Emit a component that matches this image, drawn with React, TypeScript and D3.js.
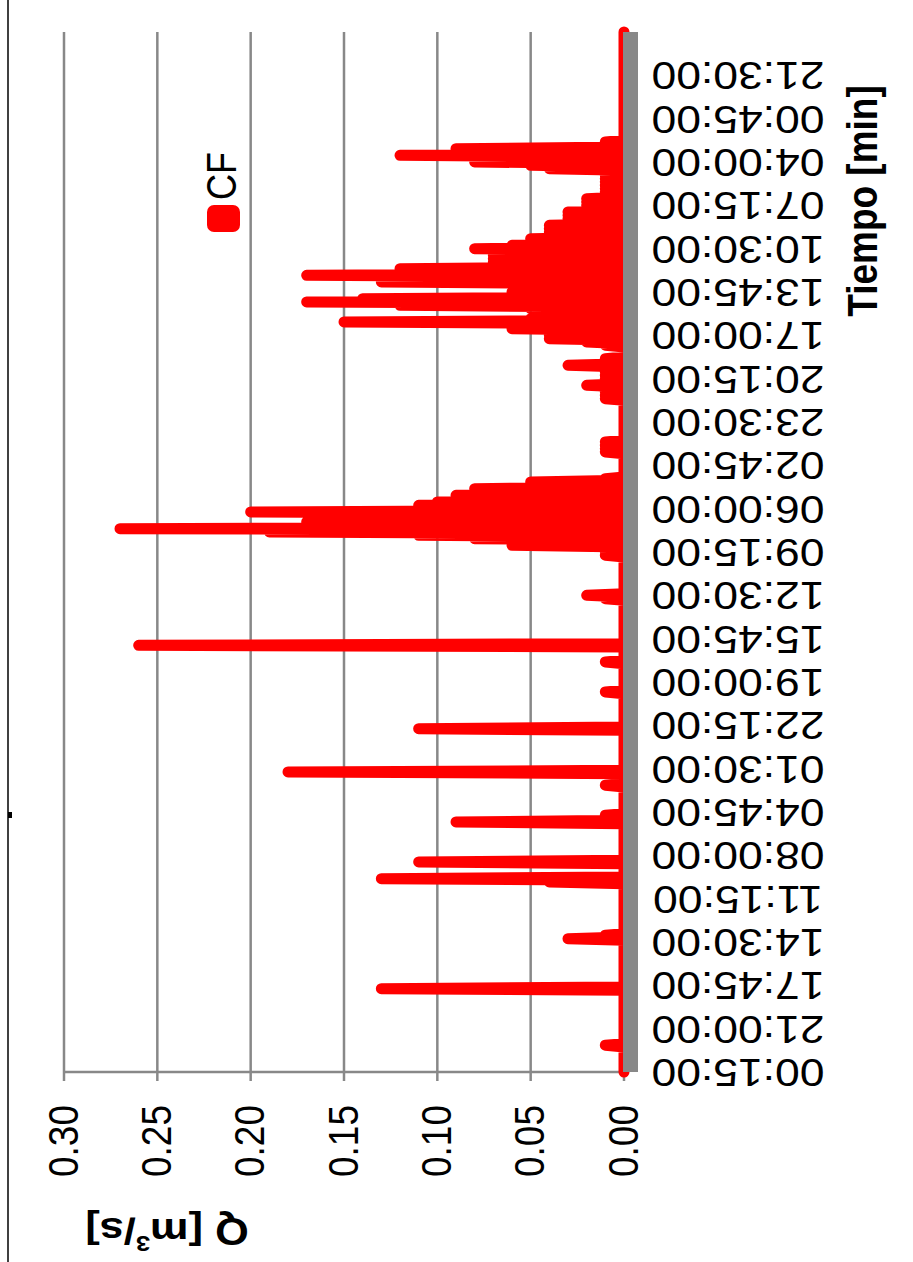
import * as d3 from "d3";

// category labels every 26th point (the chart is drawn turned on its side)
const timeLabels = [
  "00:15:00", "21:00:00", "17:45:00", "14:30:00", "11:15:00", "08:00:00",
  "04:45:00", "01:30:00", "22:15:00", "19:00:00", "15:45:00", "12:30:00",
  "09:15:00", "06:00:00", "02:45:00", "23:30:00", "20:15:00", "17:00:00",
  "13:45:00", "10:30:00", "07:15:00", "04:00:00", "00:45:00", "21:30:00",
];
const labelEvery = 26;

const valueTicks = [0, 0.05, 0.1, 0.15, 0.2, 0.25, 0.3];

// CF discharge, m3/s, one row per label interval (pulses drop back to 0)
const cfFlow = [
  0, 0, 0, 0, 0, 0, 0, 0, 0, 0, 0, 0, 0, 0, 0, 0, 0.01, 0, 0, 0, 0, 0, 0, 0, 0, 0,
  0, 0, 0, 0, 0, 0, 0, 0, 0, 0, 0, 0, 0, 0, 0, 0, 0, 0, 0, 0, 0, 0, 0, 0, 0.13, 0,
  0, 0, 0, 0, 0, 0, 0, 0, 0, 0, 0, 0, 0, 0, 0, 0, 0, 0, 0, 0, 0, 0, 0, 0, 0, 0,
  0, 0, 0.03, 0, 0.01, 0, 0, 0, 0, 0, 0, 0, 0, 0, 0, 0, 0, 0, 0, 0, 0, 0, 0, 0, 0, 0,
  0, 0, 0, 0, 0, 0, 0, 0, 0, 0, 0.04, 0, 0.13, 0, 0, 0, 0, 0, 0, 0, 0, 0, 0.11, 0, 0, 0,
  0, 0, 0, 0, 0, 0, 0, 0, 0, 0, 0, 0, 0, 0, 0, 0, 0, 0, 0, 0, 0.09, 0, 0, 0, 0.01, 0,
  0, 0, 0, 0, 0, 0, 0, 0, 0, 0, 0, 0, 0, 0, 0, 0, 0.01, 0, 0, 0, 0, 0, 0, 0, 0.18, 0,
  0, 0, 0, 0, 0, 0, 0, 0, 0, 0, 0, 0, 0, 0, 0, 0, 0, 0, 0, 0, 0, 0, 0, 0, 0.11, 0,
  0, 0, 0, 0, 0, 0, 0, 0, 0, 0, 0, 0, 0, 0, 0, 0, 0, 0, 0, 0, 0.01, 0, 0, 0, 0, 0,
  0, 0, 0, 0, 0, 0, 0, 0, 0, 0, 0, 0, 0.01, 0, 0, 0, 0, 0, 0, 0, 0, 0, 0.26, 0, 0, 0,
  0, 0, 0, 0, 0, 0, 0, 0, 0, 0, 0, 0, 0, 0, 0, 0, 0, 0, 0, 0, 0, 0, 0, 0, 0.01, 0,
  0.02, 0, 0, 0, 0, 0, 0, 0, 0, 0, 0, 0, 0, 0, 0, 0, 0, 0, 0, 0, 0, 0, 0, 0, 0.01, 0,
  0.01, 0, 0.01, 0, 0.06, 0, 0.06, 0, 0.08, 0, 0.11, 0, 0.19, 0, 0.27, 0, 0.12, 0, 0.17, 0, 0.14, 0, 0.12, 0, 0.2, 0,
  0.11, 0, 0.11, 0, 0.1, 0, 0.09, 0, 0.09, 0, 0.08, 0, 0.08, 0, 0.05, 0, 0.05, 0, 0.01, 0, 0, 0, 0, 0, 0, 0,
  0, 0, 0, 0, 0, 0, 0, 0, 0.01, 0, 0.01, 0, 0.01, 0, 0.01, 0, 0, 0, 0, 0, 0, 0, 0, 0, 0, 0,
  0, 0, 0, 0, 0, 0, 0, 0, 0, 0, 0, 0, 0, 0, 0.01, 0, 0.01, 0, 0.01, 0, 0.01, 0, 0.02, 0, 0.01, 0,
  0.01, 0, 0.01, 0, 0.01, 0, 0.01, 0, 0.03, 0, 0.01, 0, 0.01, 0, 0, 0, 0, 0, 0, 0, 0.01, 0, 0.02, 0, 0.04, 0,
  0.04, 0, 0.04, 0, 0.06, 0, 0.06, 0, 0.15, 0, 0.05, 0, 0.04, 0, 0.04, 0, 0.05, 0, 0.12, 0, 0.17, 0, 0.14, 0, 0.06, 0,
  0.06, 0, 0.04, 0, 0.06, 0, 0.13, 0, 0.1, 0, 0.17, 0, 0.1, 0, 0.12, 0, 0.07, 0, 0.07, 0, 0.07, 0, 0.07, 0, 0.07, 0,
  0.08, 0, 0.06, 0, 0.05, 0, 0.05, 0, 0.04, 0, 0.04, 0, 0.04, 0, 0.04, 0, 0.03, 0, 0.03, 0, 0.03, 0, 0.03, 0, 0.02, 0,
  0.02, 0, 0.02, 0, 0.02, 0, 0.01, 0, 0.01, 0, 0.01, 0, 0.01, 0, 0.01, 0, 0.01, 0, 0.01, 0, 0.01, 0, 0.04, 0, 0.05, 0,
  0.08, 0, 0.08, 0, 0.12, 0, 0.09, 0, 0.09, 0, 0.01, 0, 0.01, 0, 0, 0, 0, 0, 0, 0, 0, 0, 0, 0, 0, 0,
  0, 0, 0, 0, 0, 0, 0, 0, 0, 0, 0, 0, 0, 0, 0, 0, 0, 0, 0, 0, 0, 0, 0, 0, 0, 0,
  0, 0, 0, 0, 0, 0, 0, 0, 0, 0, 0, 0, 0, 0, 0, 0, 0, 0, 0, 0, 0, 0, 0, 0, 0, 0,
  0,
];

const W = 913;
const H = 1262;
const FONT = "'Liberation Sans', Arial, sans-serif";
const GRID = "#888888";
const STRETCH = 1.17; // picture is a bit wider than tall

export default function App() {
  const plotTop = 32;
  const plotBottom = 1072;
  const zeroX = 624;
  const maxX = 64;

  // time runs bottom -> top, flow runs right -> left
  const y = d3.scaleLinear().domain([0, cfFlow.length - 1]).range([plotBottom, plotTop]);
  const x = d3.scaleLinear().domain([0, 0.3]).range([zeroX, maxX]);

  const line = d3
    .line<number>()
    .x((d) => x(d))
    .y((d, i) => y(i));

  return (
    <svg
      width={W}
      height={H}
      style={{ position: "absolute", left: 0, top: 0, background: "#fff" }}
      fontFamily={FONT}
    >
      {/* outer frame edge */}
      <line x1={8} y1={0} x2={8} y2={H} stroke="#000" strokeWidth={1.5} />
      <rect x={8} y={812} width={4} height={6} fill="#000" />

      {/* gridlines */}
      {valueTicks.slice(1).map((v) => (
        <line
          key={"g" + v}
          x1={x(v)}
          x2={x(v)}
          y1={plotTop}
          y2={plotBottom}
          stroke={GRID}
          strokeWidth={2.5}
        />
      ))}

      {/* value axis */}
      <line x1={maxX} x2={zeroX} y1={plotBottom} y2={plotBottom} stroke={GRID} strokeWidth={2.5} />
      {valueTicks.map((v) => (
        <line
          key={"t" + v}
          x1={x(v)}
          x2={x(v)}
          y1={plotBottom}
          y2={plotBottom + 9}
          stroke={GRID}
          strokeWidth={2.5}
        />
      ))}
      {valueTicks.map((v) => (
        <text
          key={"l" + v}
          transform={`translate(${x(v) - 1},1141) scale(${STRETCH},1) rotate(-90)`}
          textAnchor="middle"
          dominantBaseline="central"
          fontSize={37}
        >
          {d3.format(".2f")(v)}
        </text>
      ))}

      {/* series */}
      <path
        d={line(cfFlow) ?? ""}
        fill="none"
        stroke="#ff0000"
        strokeWidth={11}
        strokeLinejoin="round"
        strokeLinecap="round"
      />

      {/* category axis (thick band) */}
      <rect x={623} y={plotTop} width={15} height={plotBottom - plotTop} fill={GRID} />

      {timeLabels.map((t, i) => (
        <text
          key={t + i}
          transform={`translate(738,${y(i * labelEvery)}) scale(${STRETCH},1) rotate(180)`}
          textAnchor="middle"
          dominantBaseline="central"
          fontSize={38}
        >
          {t}
        </text>
      ))}

      {/* axis titles */}
      <text
        transform={`translate(862,201) scale(${STRETCH},1) rotate(-90)`}
        textAnchor="middle"
        dominantBaseline="central"
        fontSize={37}
        fontWeight="bold"
      >
        Tiempo [min]
      </text>
      <text
        transform={`translate(167,1231) scale(${STRETCH},1) rotate(180)`}
        textAnchor="middle"
        dominantBaseline="central"
        fontSize={37}
        fontWeight="bold"
      >
        Q [m
        <tspan fontSize={22} dy={-13}>
          3
        </tspan>
        <tspan dy={13}>/s]</tspan>
      </text>

      {/* legend */}
      <rect x={207} y={205} width={33} height={27} rx={7} fill="#ff0000" />
      <text
        transform={`translate(221,176) scale(${STRETCH},1) rotate(-90)`}
        textAnchor="middle"
        dominantBaseline="central"
        fontSize={36}
      >
        CF
      </text>
    </svg>
  );
}
